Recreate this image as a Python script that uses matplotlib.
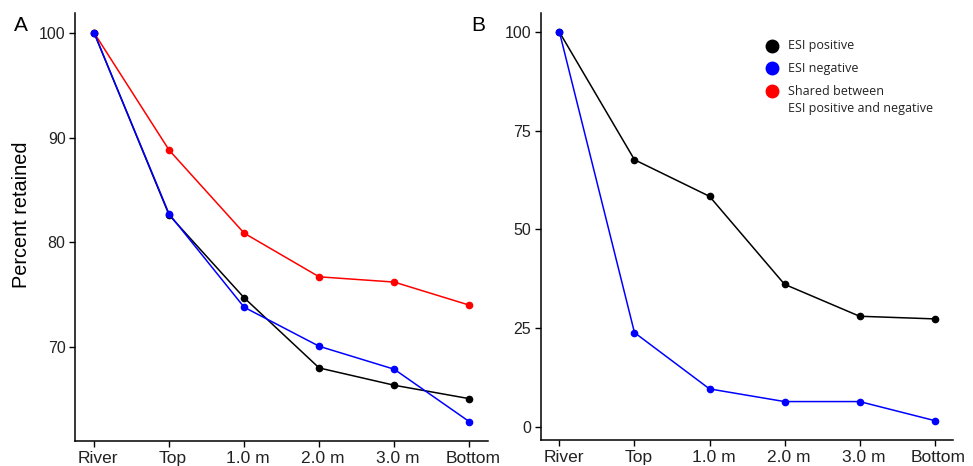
import matplotlib.pyplot as plt
import matplotlib.transforms as mtransforms
import numpy as np

# depth categories along the x axis
sites = ["River", "Top", "1.0 m", "2.0 m", "3.0 m", "Bottom"]

# panel A: percent retained
a_positive = [100, 82.6, 74.7, 68.0, 66.35, 65.07]
a_negative = [100, 82.7, 73.8, 70.07, 67.88, 62.88]
a_shared = [100, 88.8, 80.87, 76.7, 76.2, 74.0]

# panel B: percent retained
b_positive = [100, 67.65, 58.37, 36.07, 27.97, 27.3]
b_negative = [100, 23.82, 9.55, 6.34, 6.34, 1.52]

legend_labels = ["ESI positive", "ESI negative", "Shared between\nESI positive and negative"]
colors = ["black", "#0000FF", "#FF0000"]

plt.rcParams['font.family'] = ['Liberation Sans', 'DejaVu Sans']

fig = plt.figure(figsize=(9.73, 4.66), dpi=100)
axA = fig.add_axes([0.0774, 0.0536, 0.4241, 0.9178])
axB = fig.add_axes([0.5557, 0.0558, 0.4241, 0.9169])

x = np.arange(len(sites))


def style(ax, ymin, ymax, yticks):
    ax.set_xlim(-0.25, len(sites) - 0.75)
    ax.set_ylim(ymin, ymax)
    ax.set_xticks(x)
    ax.set_xticklabels(sites)
    ax.set_yticks(yticks)
    for s in ["top", "right"]:
        ax.spines[s].set_visible(False)
    for s in ["left", "bottom"]:
        ax.spines[s].set_linewidth(1.1)
    ax.tick_params(direction="out", length=4, width=1.0, labelcolor="#222222", pad=3)
    ax.tick_params(axis="x", labelsize=12.5)
    ax.tick_params(axis="y", labelsize=11.5)
    # labels sit a little right of their ticks in the original
    shift = mtransforms.ScaledTranslation(4 / 100, 0, fig.dpi_scale_trans)
    for lab in ax.get_xticklabels():
        lab.set_transform(lab.get_transform() + shift)


# panel A
axA.plot(x, a_shared, "-o", color=colors[2], lw=1.1, ms=4.5, zorder=2)
axA.plot(x, a_positive, "-o", color=colors[0], lw=1.1, ms=4.5, zorder=3)
axA.plot(x, a_negative, "-o", color=colors[1], lw=1.1, ms=4.5, zorder=4)
lo = min(a_negative); hi = 100
pad = (hi - lo) * 0.05
style(axA, lo - pad, hi + pad, [70, 80, 90, 100])
fig.text(22 / 973, 1 - 215 / 466, "Percent retained", fontsize=14.3,
         rotation=90, ha="center", va="center")

# panel B
axB.plot(x, b_positive, "-o", color=colors[0], lw=1.1, ms=4.5, zorder=3)
axB.plot(x, b_negative, "-o", color=colors[1], lw=1.1, ms=4.5, zorder=4)
lo = min(b_negative); hi = 100
pad = (hi - lo) * 0.05
style(axB, lo - pad, hi + pad, [0, 25, 50, 75, 100])

# legend drawn by hand so the dot lines up with the first text line
key_y = [0.9227, 0.8697, 0.8166]
for c, lab, ky in zip(colors, legend_labels, key_y):
    axB.plot([0.560], [ky], "o", color=c, ms=9, transform=axB.transAxes, clip_on=False)
    lines = lab.split("\n")
    for i, ln in enumerate(lines):
        axB.text(0.600, ky - i * 0.0398, ln, transform=axB.transAxes,
                 family="Open Sans", fontsize=9, va="center", ha="left", color="#222222")

fig.text(0.021, 0.945, "A", fontsize=15, va="center", ha="center")
fig.text(0.492, 0.945, "B", fontsize=15, va="center", ha="center")

fig.savefig("out.png", dpi=100)
